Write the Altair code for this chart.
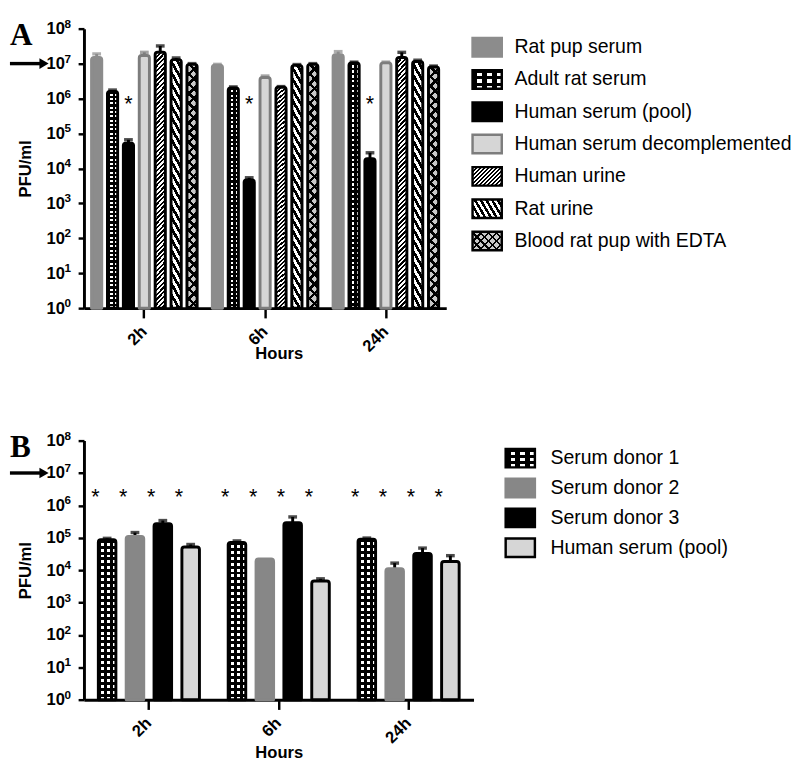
import altair as alt
import pandas as pd

# ---------------- data ----------------
hours = ["2h", "6h", "24h"]

series_a = ["Rat pup serum", "Adult rat serum", "Human serum (pool)",
            "Human serum decomplemented", "Human urine", "Rat urine",
            "Blood rat pup with EDTA"]
rat_pup_serum = [1.5e7, 9.0e6, 1.8e7]
rat_pup_serum_up = [1.9e7, 9.5e6, 2.2e7]
adult_rat_serum = [1.6e6, 2.0e6, 1.05e7]
adult_rat_serum_up = [1.75e6, 2.15e6, 1.1e7]
human_pool_a = [5.3e4, 4.7e3, 1.9e4]
human_pool_a_up = [6.6e4, 5.4e3, 2.8e4]
human_decompl = [1.7e7, 4.0e6, 1.05e7]
human_decompl_up = [2.1e7, 4.4e6, 1.1e7]
human_urine = [2.1e7, 2.1e6, 1.5e7]
human_urine_up = [3.2e7, 2.2e6, 2.1e7]
rat_urine = [1.3e7, 8.9e6, 1.15e7]
rat_urine_up = [1.45e7, 9.4e6, 1.25e7]
blood_edta = [9.5e6, 9.5e6, 8.0e6]
blood_edta_up = [1.0e7, 1.0e7, 8.5e6]
stars_a = ["Human serum (pool)"]
star_a_level = 1e6

series_b = ["Serum donor 1", "Serum donor 2", "Serum donor 3", "Human serum (pool)"]
donor1 = [8.7e4, 7.2e4, 9.0e4]
donor1_up = [9.6e4, 8.0e4, 9.8e4]
donor2 = [1.1e5, 2.2e4, 1.1e4]
donor2_up = [1.45e5, 2.2e4, 1.65e4]
donor3 = [2.7e5, 2.9e5, 3.3e4]
donor3_up = [3.4e5, 4.4e5, 4.8e4]
human_pool_b = [5.2e4, 4.6e3, 1.85e4]
human_pool_b_up = [6.2e4, 5.4e3, 2.8e4]
stars_b = series_b
star_b_level = 2.75e6

decade_values = [1, 10, 100, 1e3, 1e4, 1e5, 1e6, 1e7, 1e8]
decade_exponents = ["0", "1", "2", "3", "4", "5", "6", "7", "8"]

means_a = [rat_pup_serum, adult_rat_serum, human_pool_a, human_decompl,
           human_urine, rat_urine, blood_edta]
ups_a = [rat_pup_serum_up, adult_rat_serum_up, human_pool_a_up, human_decompl_up,
         human_urine_up, rat_urine_up, blood_edta_up]
means_b = [donor1, donor2, donor3, human_pool_b]
ups_b = [donor1_up, donor2_up, donor3_up, human_pool_b_up]


def long_table(series, means, ups):
    rows = []
    for s, m, u in zip(series, means, ups):
        for h, mv, uv in zip(hours, m, u):
            rows.append({"hour": h, "series": s, "mean": mv, "upper": uv})
    return pd.DataFrame(rows)


df_a = long_table(series_a, means_a, ups_a)
df_b = long_table(series_b, means_b, ups_b)
df_exp = pd.DataFrame({"v": decade_values, "e": decade_exponents})

# ---------------- styling helpers ----------------
FONT = "Liberation Sans"
GRAY = "#8c8c8c"
LIGHT = "#d6d6d6"
MID = "#7d7d7d"
CLEAR = "rgba(0,0,0,0)"


def stripes(nx, ny, w, h, pitch, c_on, c_off, frac=0.5):
    n2 = (nx * nx + ny * ny) ** 0.5
    nx, ny = nx / n2, ny / n2
    L = abs(nx) * w + abs(ny) * h
    k = L / (nx * nx * w * w + ny * ny * h * h)
    a, b = k * nx * w, k * ny * h
    x1 = 0 if a >= 0 else 1
    y1 = 0 if b >= 0 else 1
    n = max(1, round(L / pitch))
    stops = []
    for i in range(n):
        s, m, e = i / n, (i + frac) / n, (i + 1) / n
        stops += [{"offset": s, "color": c_on}, {"offset": m, "color": c_on},
                  {"offset": m, "color": c_off}, {"offset": e, "color": c_off}]
    return {"gradient": "linear", "x1": x1, "y1": y1, "x2": x1 + a, "y2": y1 + b,
            "stops": stops}


def styles_a(w, h, legend=False):
    s = 0.85 if legend else 1.0
    return {
        "Rat pup serum": [dict(fill=GRAY, stroke=GRAY)],
        "Adult rat serum": [
            dict(fill=stripes(1, 0, w, h, w / (3 if legend else 2.5), "black", "white", 0.5)),
            dict(fill=stripes(0, 1, w, h, (6.5 if legend else 5.0), "black", CLEAR, 0.5),
                 stroke="black")],
        "Human serum (pool)": [dict(fill="black", stroke="black")],
        "Human serum decomplemented": [dict(fill=LIGHT, stroke=MID)],
        "Human urine": [dict(fill=stripes(1, 1, w, h, 3.3 * s, "black", "white", 0.5),
                             stroke="black")],
        "Rat urine": [dict(fill=stripes(0.866, -0.5, w, h, 5.6 * s, "black", "white", 0.5),
                           stroke="black")],
        "Blood rat pup with EDTA": [
            dict(fill=stripes(1, 1, w, h, 7.0 * s, "black", "#c8c8c8", 0.35)),
            dict(fill=stripes(1, -1, w, h, 7.0 * s, "black", CLEAR, 0.35), stroke="black")],
    }


def styles_b(w, h, legend=False):
    return {
        "Serum donor 1": [
            dict(fill=stripes(1, 0, w, h, (w / 3 if legend else 6.0), "black", "white", 0.5)),
            dict(fill=stripes(0, 1, w, h, (6.5 if legend else 6.0), "black", CLEAR, 0.5),
                 stroke="black")],
        "Serum donor 2": [dict(fill="#878787", stroke="#878787")],
        "Serum donor 3": [dict(fill="black", stroke="black")],
        "Human serum (pool)": [dict(fill=LIGHT, stroke="black")],
    }


def panel(df, series, means_styles, legend_styles, err_colors, W, H,
          x_pad, xo_pad, leg_range, leg_sym_x, leg_text_x, leg_font,
          letter, left, star_series, star_level, star_dx, title_x, title_y, xlab_pad):
    y_scale = alt.Scale(type="log", domain=[1, 1e8], nice=False)
    y_axis = alt.Axis(values=decade_values, grid=False, tickSize=6, labelPadding=14,
                      titlePadding=12, labelFontSize=17, labelExpr="'10'")
    x_enc = alt.X("hour:N", sort=hours, title="Hours",
                  scale=alt.Scale(domain=hours, paddingInner=x_pad[0], paddingOuter=x_pad[1]),
                  axis=alt.Axis(labelAngle=-45, labelAlign="right", labelBaseline="middle",
                                labelFontSize=17,
                                tickSize=10, labelPadding=xlab_pad, titleX=title_x,
                                titleY=title_y, titleBaseline="middle"))
    xo_enc = alt.XOffset("series:N", sort=series,
                         scale=alt.Scale(domain=series, paddingInner=xo_pad[0],
                                         paddingOuter=xo_pad[1]))

    base = alt.Chart(df)
    layers = []
    # error bars
    err = base.transform_filter("datum.upper > datum.mean")
    color_enc = alt.Color("series:N", scale=alt.Scale(domain=series, range=err_colors),
                          legend=None)
    layers.append(err.mark_rule(strokeWidth=3).encode(
        x=x_enc, xOffset=xo_enc,
        y=alt.Y("mean:Q", scale=y_scale, axis=y_axis, title="PFU/ml"),
        y2="upper:Q", color=color_enc))
    layers.append(err.mark_tick(thickness=3.5, size=9).encode(
        x=x_enc, xOffset=xo_enc,
        y=alt.Y("upper:Q", scale=y_scale, axis=y_axis, title="PFU/ml"),
        color=color_enc))
    # bars
    for s in series:
        for st in means_styles[s]:
            layers.append(base.transform_filter(alt.datum.series == s).mark_bar(
                strokeWidth=3, cornerRadiusTopLeft=2.5, cornerRadiusTopRight=2.5,
                strokeJoin="round", **st).encode(
                x=x_enc, xOffset=xo_enc,
                y=alt.Y("mean:Q", scale=y_scale, axis=y_axis, title="PFU/ml"),
                y2=alt.datum(1)))
    # asterisks
    layers.append(base.transform_filter(
        alt.FieldOneOfPredicate(field="series", oneOf=star_series)).mark_text(
        text="*", fontSize=22, font=FONT, baseline="middle", dy=6, dx=star_dx,
        color="black").encode(
        x=x_enc, xOffset=xo_enc, y=alt.datum(star_level)))
    # exponents of the tick labels
    layers.append(alt.Chart(df_exp).mark_text(
        align="left", baseline="middle", font=FONT, fontWeight="bold", fontSize=12,
        dy=-5, color="black").encode(
        x=alt.value(-20),
        y=alt.Y("v:Q", scale=y_scale, axis=y_axis, title="PFU/ml"),
        text="e:N"))
    # arrow at 10^7
    one = alt.Chart(pd.DataFrame({"k": [0]}))
    layers.append(one.mark_rule(strokeWidth=3.5, color="black").encode(
        x=alt.value(left), x2=alt.value(left + 31), y=alt.datum(1e7)))
    layers.append(one.mark_point(shape="triangle-right", size=120, filled=True,
                                 color="black", opacity=1).encode(
        x=alt.value(left + 35), y=alt.datum(1e7)))
    # panel letter
    layers.append(one.mark_text(text=letter, font="Liberation Serif", fontSize=32,
                                fontWeight="bold", align="left", baseline="top",
                                color="black").encode(
        x=alt.value(left), y=alt.value(-8)))
    main = alt.layer(*layers)

    # legend
    ldf = alt.Chart(pd.DataFrame({"series": series}))
    y_leg = alt.Y("series:N", sort=series, axis=None,
                  scale=alt.Scale(type="point", domain=series, range=leg_range, padding=0))
    leg_layers = []
    for s in series:
        for st in legend_styles[s]:
            leg_layers.append(ldf.transform_filter(alt.datum.series == s).mark_point(
                shape="M-1.5,-0.95H1.5V0.95H-1.5Z", size=400, filled=True, opacity=1,
                strokeWidth=2.5, strokeOpacity=1 if "stroke" in st else 0,
                **st).encode(x=alt.value(leg_sym_x), y=y_leg))
    leg_layers.append(ldf.mark_text(align="left", baseline="middle", font=FONT,
                                    fontSize=leg_font, color="black").encode(
        x=alt.value(leg_text_x), y=y_leg, text="series:N"))
    legend = alt.layer(*leg_layers)

    return alt.layer(main, legend).resolve_scale(y="independent").properties(
        width=W, height=H)


WA, HA = 372, 287
WB, HB = 400, 266

panel_a = panel(
    df_a, series_a, styles_a(10.45, 250), styles_a(30, 19, legend=True),
    [GRAY, "black", "black", MID, "black", "black", "black"],
    WA, HA, (0.06, 0.03), (0.36, 0.25), [19, 218], WA + 42, WA + 70, 20,
    "A", -76, stars_a, star_a_level, 0, WA / 2 + 14, 47, 11)

panel_b = panel(
    df_b, series_b, styles_b(18, 163), styles_b(30, 19, legend=True),
    ["black", "black", "black", "black"],
    WB, HB, (0.1, 0.05), (0.37, 0.283), [18, 110], WB + 48, WB + 79, 20,
    "B", -76, stars_b, star_b_level, -12, WB / 2, 54, 11)

chart = alt.vconcat(panel_a, panel_b, spacing=70).resolve_scale(
    x="independent", y="independent", xOffset="independent", color="independent"
).properties(padding=0).configure_view(
    stroke=None
).configure_axis(
    domainColor="black", domainWidth=3, tickColor="black", tickWidth=2.5,
    labelFont=FONT, labelFontWeight="bold", labelFontSize=16, labelColor="black",
    titleFont=FONT, titleFontWeight="bold", titleFontSize=17, titleColor="black",
    grid=False
)

chart.save("out.html", embed_options={"renderer": "svg", "actions": False})
